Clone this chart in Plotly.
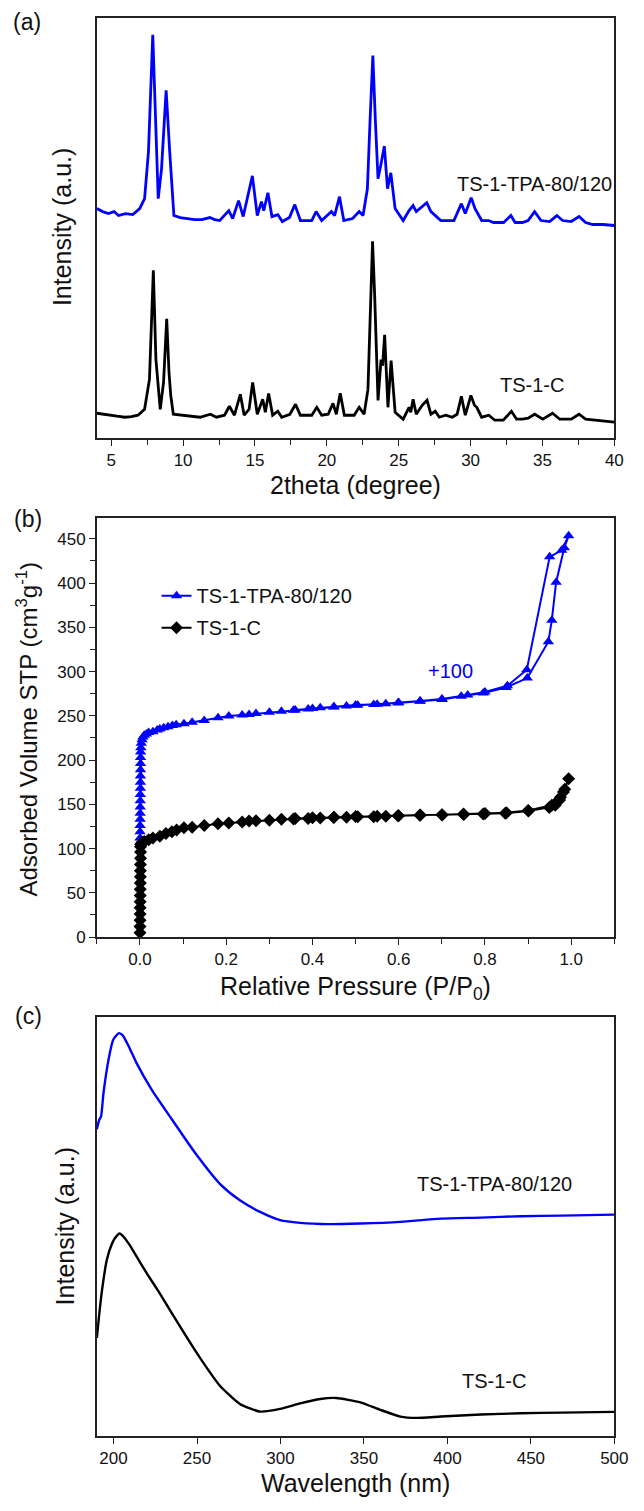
import plotly.graph_objects as go

W, H = 644, 1511
FONT = "Liberation Sans, Arial, sans-serif"
BLUE = "#0000FF"
BLACK = "#000000"
AXC = "#222222"

# ---------------- (a) XRD ----------------
xrd_tpa_2theta = [4.0, 4.4, 4.8, 5.2, 5.5, 6.0, 6.5, 6.98, 7.32, 7.59, 7.89, 8.07, 8.27, 8.5, 8.82, 9.07, 9.36,
                  9.8, 10.27, 10.8, 11.3, 11.86, 12.2, 12.55, 13.18, 13.45, 13.86, 14.18, 14.82, 15.16, 15.45,
                  15.61, 15.9, 16.18, 16.59, 16.9, 17.4, 17.77, 18.16, 18.95, 19.25, 19.64, 20.32, 20.54, 20.88,
                  21.18, 21.79, 22.25, 22.52, 22.82, 23.0, 23.2, 23.38, 23.56, 23.77, 24.0, 24.22, 24.45, 24.75,
                  25.31, 25.72, 26.0, 26.22, 26.63, 26.95, 27.24, 27.54, 27.93, 28.84, 29.36, 29.63, 30.04, 30.31,
                  30.77, 31.25, 31.6, 32.3, 32.8, 33.1, 33.6, 34.0, 34.45, 34.9, 35.5, 36.0, 36.4, 37.0, 37.55,
                  38.0, 38.5, 39.2, 40.0]
xrd_tpa_int = [231, 228, 226, 228, 224, 226, 225, 231, 241, 288, 406, 321, 241, 271, 350, 288, 224,
               222, 221, 220, 220, 222, 220, 219, 229, 221, 239, 223, 264, 224, 238,
               229, 247, 223, 225, 218, 222, 235, 219, 219, 228, 219, 228, 224, 243,
               219, 221, 228, 224, 251, 318, 385, 318, 261, 276, 294, 251, 267, 231,
               219, 229, 234, 228, 233, 237, 228, 224, 219, 219, 236, 226, 242, 231,
               219, 219, 217, 217, 224, 217, 217, 219, 228, 219, 218, 224, 219, 218, 223,
               217, 215, 215, 214]

xrd_c_2theta = [4.0, 4.4, 4.82, 5.4, 5.95, 6.4, 6.86, 7.32, 7.66, 7.93, 8.11, 8.41, 8.64, 8.86, 9.02, 9.14, 9.32,
                10.04, 10.6, 11.18, 11.9, 12.31, 12.88, 13.22, 13.57, 13.98, 14.25, 14.59, 14.84, 15.16, 15.54,
                15.72, 15.95, 16.23, 16.59, 16.86, 17.43, 17.82, 18.16, 18.95, 19.3, 19.64, 20.09, 20.43, 20.66,
                20.93, 21.22, 21.9, 22.25, 22.59, 22.86, 23.0, 23.18, 23.32, 23.45, 23.56, 23.77, 23.88, 24.02,
                24.25, 24.47, 24.75, 25.31, 25.72, 25.84, 26.0, 26.22, 26.63, 26.97, 27.24, 27.54, 27.82, 28.27,
                28.72, 29.06, 29.36, 29.63, 30.02, 30.27, 30.43, 30.77, 31.27, 31.68, 32.27, 32.84, 33.2, 33.6,
                34.0, 34.46, 35.02, 35.7, 36.2, 37.0, 37.54, 38.0, 38.66, 39.3, 40.0]
xrd_c_int = [25, 24, 23, 22, 21, 21.5, 23, 29, 59, 169, 79, 29, 56, 120, 66, 43, 24,
             23, 21.5, 21, 24, 21, 23, 32, 23, 44, 23, 29, 56, 24, 39,
             26, 45, 23, 27, 21, 24, 34, 23, 23, 31, 23, 24, 35, 24,
             45, 23, 23, 31, 24, 49, 123, 198, 146, 89, 38, 79, 73, 104,
             31, 78, 26, 19, 31, 26, 39, 24, 33, 38, 24, 27, 21, 23,
             21, 24, 42, 23, 43, 33, 31, 21, 23, 18, 18, 27, 19, 19,
             20, 24, 19, 25, 19, 19, 24, 19, 18, 17, 16]

# ---------------- (b) N2 isotherms ----------------
iso_tpa_p = [0.0, 0.0001, 0.0002, 0.0003, 0.0004, 0.0005, 0.0006, 0.0007, 0.0008, 0.0009, 0.001, 0.0011,
             0.0012, 0.0013, 0.0014, 0.0015, 0.002, 0.003, 0.005, 0.007, 0.01, 0.015, 0.02, 0.03, 0.04, 0.046,
             0.055, 0.065, 0.075, 0.084, 0.102, 0.121, 0.149, 0.181, 0.206, 0.237, 0.253, 0.269, 0.300, 0.328,
             0.356, 0.390, 0.418, 0.449, 0.479, 0.505, 0.542, 0.570, 0.598, 0.649, 0.701, 0.745, 0.796, 0.849,
             0.898, 0.947, 0.955, 0.965, 0.984, 0.994,
             0.978, 0.950, 0.897, 0.852, 0.800, 0.760, 0.700, 0.650, 0.600, 0.550, 0.500, 0.450, 0.400, 0.360]
iso_tpa_v = [105, 112, 119, 126, 133, 140, 147, 154, 161, 168, 175, 182,
             189, 196, 203, 209, 214, 219, 223, 226, 228, 229.5, 231, 232, 234, 235,
             236.5, 237.5, 239, 240, 241, 242.6, 244.8, 247.8, 249.7, 250.8, 251.5, 252.6, 254, 255.2,
             256.3, 257.8, 259, 260, 261.2, 262, 262.7, 263.5, 264.6, 266.5, 268.4, 272, 275.8, 282,
             292.6, 333.8, 358, 401, 440, 453.5,
             437, 429.6, 302, 284, 277, 273.5, 269, 266.8, 265, 263, 262.2, 260.3, 258.3, 256.5]

iso_c_p = [0.0, 0.0001, 0.0002, 0.0003, 0.0004, 0.0005, 0.0006, 0.0007, 0.0008, 0.0009, 0.001, 0.0011,
           0.0012, 0.0013, 0.0014, 0.0015, 0.005, 0.01, 0.02, 0.03, 0.046, 0.06, 0.074, 0.085, 0.102, 0.121,
           0.149, 0.181, 0.206, 0.237, 0.253, 0.269, 0.300, 0.328, 0.356, 0.390, 0.418, 0.449, 0.479, 0.505,
           0.542, 0.570, 0.598, 0.649, 0.701, 0.751, 0.796, 0.847, 0.901, 0.949, 0.963, 0.973, 0.982, 0.994,
           0.985, 0.975, 0.965, 0.955, 0.900, 0.850, 0.800, 0.750, 0.700, 0.650, 0.600, 0.550, 0.500, 0.450,
           0.400, 0.360]
iso_c_v = [5, 12, 19, 26, 33, 40, 47, 54, 61, 68, 75, 82,
           89, 96, 102, 105, 107, 108, 110, 112, 114, 117, 119, 121, 123.5, 124,
           126, 128, 129, 130, 131, 131.5, 132, 133, 133.5, 134, 134.5, 135, 135.5, 136,
           136, 136.5, 137, 137.5, 138, 138.5, 139, 140, 142.5, 146.5, 149, 155, 164, 179,
           167, 158, 152, 149, 143, 140.5, 139.5, 139, 138.3, 137.8, 137.2, 136.5, 136.2, 135.3,
           134.7, 134]

# ---------------- (c) UV-vis ----------------
uv_tpa_nm = [190.0, 191.5, 192.5, 194, 197, 199.8, 203.3, 205.5, 209.5, 213.5, 223.2, 234.9, 248.6, 263.7,
             275.7, 287.8, 299.8, 311.8, 328.6, 347.8, 371.9, 396, 420, 444, 468, 500]
uv_tpa_int = [309, 318.7, 321.7, 345.7, 379, 399, 405.7, 403.5, 391, 376.5, 347.7, 319, 285.7, 254,
              237.4, 225.7, 217.4, 214.7, 213.4, 214, 215.7, 219, 220, 221.4, 222, 223]
uv_c_nm = [190.0, 191.5, 193, 196, 198.8, 201, 203.7, 206, 209.5, 215.6, 220.4, 227.6, 239.7, 251.7, 263.7,
           275.7, 287.8, 299.8, 311.8, 323.8, 333.4, 347.8, 359.9, 371.9, 381.5, 396, 420, 444, 468, 500]
uv_c_int = [99, 123.7, 145.7, 177.7, 192.7, 199.7, 204, 200.7, 192.7, 175.7, 162.7, 144, 110.7, 79, 50.7,
            32.4, 24.7, 27.4, 33, 37.4, 38.4, 34, 26.4, 19.7, 18.4, 19.7, 21.7, 23, 23.7, 24.4]

# ---------------- figure ----------------
def py(y):
    return 1 - y / H

XD = [99 / W, 628 / W]

fig = go.Figure()
fig.add_trace(go.Scatter(x=xrd_tpa_2theta, y=xrd_tpa_int, mode="lines", line=dict(color=BLUE, width=2.8),
                         xaxis="x", yaxis="y", showlegend=False))
fig.add_trace(go.Scatter(x=xrd_c_2theta, y=xrd_c_int, mode="lines", line=dict(color=BLACK, width=2.8),
                         xaxis="x", yaxis="y", showlegend=False))

fig.add_trace(go.Scatter(x=iso_tpa_p, y=iso_tpa_v, mode="lines+markers", name="TS-1-TPA-80/120",
                         line=dict(color=BLUE, width=2),
                         marker=dict(symbol="triangle-up", size=10, color=BLUE),
                         xaxis="x2", yaxis="y2", legendgroup="a"))
fig.add_trace(go.Scatter(x=iso_c_p, y=iso_c_v, mode="lines+markers", name="TS-1-C",
                         line=dict(color=BLACK, width=2),
                         marker=dict(symbol="diamond", size=10, color=BLACK),
                         xaxis="x2", yaxis="y2", legendgroup="b"))

fig.add_trace(go.Scatter(x=uv_tpa_nm, y=uv_tpa_int, mode="lines",
                         line=dict(color=BLUE, width=2.4, shape="spline", smoothing=0.6),
                         xaxis="x3", yaxis="y3", showlegend=False))
fig.add_trace(go.Scatter(x=uv_c_nm, y=uv_c_int, mode="lines",
                         line=dict(color=BLACK, width=2.4, shape="spline", smoothing=0.5),
                         xaxis="x3", yaxis="y3", showlegend=False))

tickfont = dict(family=FONT, size=17, color="#111111")
common = dict(showline=True, mirror=True, linecolor=AXC, linewidth=1.5, showgrid=False, zeroline=False,
              tickfont=tickfont, ticks="outside", ticklen=6, tickwidth=1.3, tickcolor=AXC)
noticks_y = dict(showline=True, mirror=True, linecolor=AXC, linewidth=1.5, showgrid=False, zeroline=False,
                 showticklabels=False, ticks="")

fig.update_layout(
    width=W, height=H, margin=dict(l=0, r=0, t=0, b=0),
    paper_bgcolor="white", plot_bgcolor="white",
    font=dict(family=FONT, color="#111111"),
    xaxis=dict(domain=XD, anchor="y", range=[4, 40], tickmode="linear", tick0=0, dtick=5,
               minor=dict(dtick=2.5, ticks="outside", ticklen=5, tickcolor=AXC), **common),
    yaxis=dict(domain=[py(441), py(18)], anchor="x", range=[0, 423], **noticks_y),
    xaxis2=dict(domain=XD, anchor="y2", range=[-0.1, 1.1], tickmode="linear", tick0=0, dtick=0.2,
                tickformat=".1f", minor=dict(dtick=0.1, ticks="outside", ticklen=5, tickcolor=AXC), **common),
    yaxis2=dict(domain=[py(943.3), py(521)], anchor="x2", range=[0, 474], tickmode="linear", tick0=0, dtick=50,
                minor=dict(dtick=25, ticks="outside", ticklen=5, tickcolor=AXC), **common),
    xaxis3=dict(domain=XD, anchor="y3", range=[190, 500], tickmode="linear", tick0=0, dtick=50, **common),
    yaxis3=dict(domain=[py(1445.7), py(1024)], anchor="x3", range=[0, 421.7], **noticks_y),
    legend=dict(x=160 / W, y=py(580), xanchor="left", yanchor="top", bgcolor="rgba(0,0,0,0)",
                font=dict(family=FONT, size=20, color="#111111"), traceorder="grouped", tracegroupgap=3),
)


def ann(text, x, y, size, color="#111111", angle=0):
    return dict(text=text, x=x / W, y=py(y), xref="paper", yref="paper", showarrow=False,
                font=dict(family=FONT, size=size, color=color), xanchor="center", yanchor="middle",
                textangle=angle)


fig.update_layout(annotations=[
    ann("(a)", 28, 22, 23),
    ann("(b)", 29, 522, 23),
    ann("(c)", 29, 1023, 23),
    ann("Intensity (a.u.)", 64, 229, 25, angle=-90),
    ann("2theta (degree)", 363, 488, 25),
    ann("TS-1-TPA-80/120", 546, 185, 20),
    ann("TS-1-C", 544, 388, 20),
    ann("Adsorbed Volume STP (cm<sup>3</sup>g<sup>-1</sup>)", 28, 734, 24, angle=-90),
    ann("Relative Pressure (P/P<sub>0</sub>)", 363, 995, 25),
    ann("+100", 461, 675, 20, color=BLUE),
    ann("Intensity (a.u.)", 66, 1235, 25, angle=-90),
    ann("Wavelength (nm)", 363, 1493, 25),
    ann("TS-1-TPA-80/120", 505, 1192, 20),
    ann("TS-1-C", 505, 1390, 20),
])

fig.write_html("out.html")
